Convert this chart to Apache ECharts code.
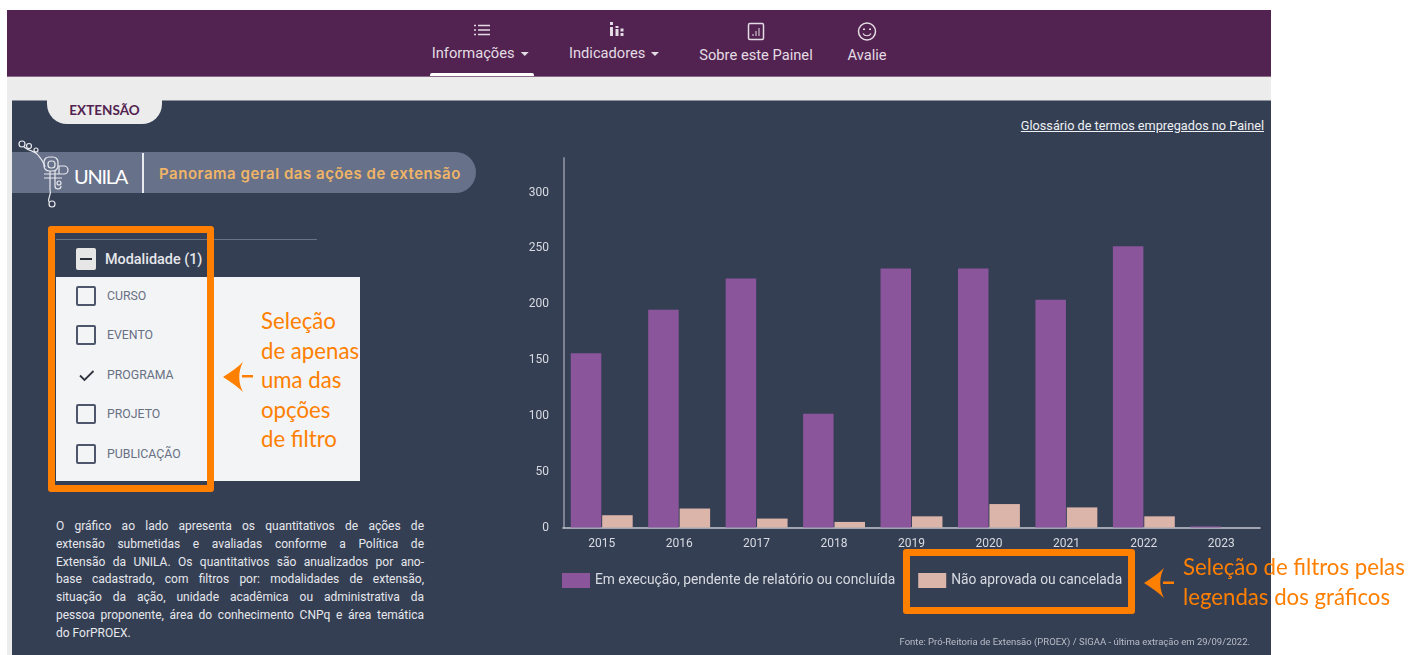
<!DOCTYPE html>
<html lang="pt-BR">
<head>
<meta charset="utf-8">
<title>Panorama geral das ações de extensão</title>
<script src="https://cdn.jsdelivr.net/npm/echarts@6/dist/echarts.min.js"></script>
<style>
html, body { margin: 0; padding: 0; width: 1411px; height: 655px; overflow: hidden; background: #fff; font-family: Roboto, sans-serif; }
.abs { position: absolute; white-space: nowrap; }
#topbar { left: 7px; top: 10px; width: 1264px; height: 67px; background: #522350; border-bottom: 1px solid #8a6a88; box-sizing: border-box; }
#strip { left: 7px; top: 77px; width: 1264px; height: 23px; background: #ececec; }
#side { left: 7px; top: 100px; width: 5px; height: 555px; background: #ececec; }
#panel { left: 12px; top: 100px; width: 1259px; height: 555px; background: #353f54; border-top: 1px solid #8d929c; box-sizing: border-box; }
#chart { left: 0; top: 0; width: 1411px; height: 655px; }
.nav { color: #e4dce4; font-size: 14.7px; transform: translateX(-50%); }
.nav i { display: inline-block; width: 0; height: 0; border: 4.5px solid transparent; border-top: 4.5px solid #e4dce4; border-bottom: 0; margin-left: 2px; vertical-align: 2px; }
#tab { left: 47px; top: 100px; width: 115px; height: 24px; background: #ececec; border-radius: 0 0 20px 20px; color: #522350; font: 700 13.5px/20px Lato, sans-serif; text-align: center; }
#glossario { right: 147px; top: 118px; color: #eef0f3; font-size: 12.7px; text-decoration: underline; }
#pill { left: 12px; top: 152px; width: 464px; height: 41px; background: #67718a; border-radius: 0 21px 21px 0; }
#unila { left: 74px; top: 164px; color: #fff; font: 400 20px/24px Lato, sans-serif; letter-spacing: -1.3px; }
#sep { left: 142px; top: 153px; width: 2px; height: 40px; background: #e8eaee; }
#titulo { left: 159px; top: 165px; color: #f0b566; font: 600 15px/18px Inter, sans-serif; letter-spacing: .52px; }
#filtroLinha { left: 56px; top: 239px; width: 261px; height: 1px; background: #6a7285; }
#filtroCaixa { left: 56px; top: 277px; width: 304px; height: 204px; background: #f3f4f6; }
.cb { width: 20px; height: 20px; box-sizing: border-box; border: 2px solid #4d566b; border-radius: 2px; left: 76px; }
#cbTopo { top: 248px; height: 22px; background: #e6e6e6; border: 0; }
#cbTopo b { position: absolute; left: 4px; top: 10px; width: 12px; height: 2px; background: #2a2f3a; }
#modalidade { left: 105px; top: 251px; color: #e6e7ea; font-size: 14.4px; font-weight: 500; line-height: 18px; }
.op { left: 107px; color: #687083; font-size: 12.3px; line-height: 16px; }
.laranja { border: 7px solid #ff7f00; border-radius: 3px; box-sizing: border-box; }
.nota { color: #ff7f00; font: 400 22.2px/29.5px Lato, sans-serif; }
#texto { left: 56px; top: 518px; width: 368px; color: #e6e8ec; font-size: 12px; line-height: 17.8px; white-space: normal; }
#texto div { text-align: justify; text-align-last: justify; }
#texto div:last-child { text-align-last: left; }
#fonte { right: 161px; top: 636px; color: #b9bdc7; font-size: 9.5px; line-height: 12px; }
svg.abs { overflow: visible; }
</style>
</head>
<body>
<div class="abs" id="topbar"></div>
<div class="abs" id="strip"></div>
<div class="abs" id="side"></div>
<div class="abs" id="panel"></div>

<!-- menu -->
<svg class="abs" style="left:0;top:0" width="1" height="1" fill="none" stroke="#e4dce4">
  <path d="M478 25.5h12M478 30h12M478 34.500h12" stroke-width="1.500"/>
  <path d="M474 25.500h2M474 30h2M474 34.500h2" stroke-width="1.500"/>
  <path d="M611.500 27v9M617 29v7M622 33v3M611.500 22v3M617 26v2M622 28.500v3" stroke-width="3"/>
  <rect x="748.500" y="23.500" width="15" height="16" rx="1.500" stroke-width="1.500"/>
  <path d="M753 36v-2M756 36v-5M759 36v-8" stroke-width="1"/>
  <circle cx="867" cy="31.500" r="8.500" stroke-width="1.500"/>
  <path d="M863 33.500c1.500 3 6.500 3 8 0" stroke-width="1.200"/>
  <path d="M864 28.500v1.500M870 28.500v1.500" stroke-width="2"/>
</svg>
<div class="abs nav" style="left:480px;top:44px">Informações <i></i></div>
<div class="abs nav" style="left:614px;top:44px">Indicadores <i></i></div>
<div class="abs nav" style="left:756px;top:46px">Sobre este Painel</div>
<div class="abs nav" style="left:867px;top:46px">Avalie</div>
<div class="abs" style="left:430px;top:73px;width:104px;height:3px;background:#fff;border-radius:2px 2px 0 0"></div>

<!-- cabecalho do painel -->
<div class="abs" id="tab">EXTENSÃO</div>
<div class="abs" id="glossario">Glossário de termos empregados no Painel</div>
<div class="abs" id="pill"></div>
<svg class="abs" style="left:0;top:0" width="1" height="1" fill="none" stroke="#e8eaee" stroke-width="1.200">
  <circle cx="22" cy="144" r="3"/><circle cx="29" cy="146" r="2.500"/><circle cx="36" cy="150" r="2"/>
  <path d="M24 147C30 152 34 150 38 155S44 162 45 167"/>
  <rect x="44" y="157" width="14" height="14" rx="5"/>
  <rect x="48" y="161" width="7" height="7" rx="3"/>
  <path d="M44 174H64a4 4 0 0 0 0-8h-5v8M44 178H62"/>
  <path d="M50 171V190M55 171V186a3 3 0 0 0 6 0"/>
  <path d="M50 190C52 195 47 198 49 202"/>
  <circle cx="52" cy="204" r="3"/><circle cx="59" cy="183" r="2"/>
</svg>
<div class="abs" id="unila">UNILA</div>
<div class="abs" id="sep"></div>
<div class="abs" id="titulo">Panorama geral das ações de extensão</div>

<!-- filtro -->
<div class="abs" id="filtroLinha"></div>
<div class="abs" id="filtroCaixa"></div>
<div class="abs cb" id="cbTopo"><b></b></div>
<div class="abs" id="modalidade">Modalidade (1)</div>
<div id="filtroItens"></div>
<svg class="abs" style="left:0;top:0" width="1" height="1" fill="none" stroke="#2f3440" stroke-width="1.800">
  <path d="M80 375.500l4.500 4.500 9-9"/>
</svg>
<div class="abs laranja" style="left:48px;top:226px;width:166px;height:266px"></div>

<!-- seta e nota do filtro -->
<svg class="abs" style="left:0;top:0" width="1" height="1" fill="#ff7f00">
  <path d="M223 377C231 372 238 367 243 362C238 371 238 383 243 392C238 387 231 382 223 377Z"/>
  <rect x="242" y="375" width="11" height="2.500"/>
  <path d="M1144 583C1152 578 1159 573 1164 568C1159 577 1159 589 1164 598C1159 593 1152 588 1144 583Z"/>
  <rect x="1163" y="581.500" width="11" height="2.500"/>
</svg>
<div class="abs nota" style="left:261px;top:306px">Seleção<br>de apenas<br>uma das<br>opções<br>de filtro</div>

<div class="abs" id="texto">
  <div>O gráfico ao lado apresenta os quantitativos de ações de</div>
  <div>extensão submetidas e avaliadas conforme a Política de</div>
  <div>Extensão da UNILA. Os quantitativos são anualizados por ano-</div>
  <div>base cadastrado, com filtros por: modalidades de extensão,</div>
  <div>situação da ação, unidade acadêmica ou administrativa da</div>
  <div>pessoa proponente, área do conhecimento CNPq e área temática</div>
  <div>do ForPROEX.</div>
</div>

<div class="abs" id="chart"></div>

<div class="abs laranja" style="left:903px;top:549px;width:232px;height:65px;pointer-events:none"></div>
<div class="abs nota" style="left:1183px;top:552px">Seleção de filtros pelas<br>legendas dos gráficos</div>
<div class="abs" id="fonte">Fonte: Pró-Reitoria de Extensão (PROEX) / SIGAA - última extração em 29/09/2022.</div>

<script>
const anos = ['2015', '2016', '2017', '2018', '2019', '2020', '2021', '2022', '2023']
const emExecucao = [156, 195, 223, 102, 232, 232, 204, 252, 1]
const naoAprovada = [11, 17, 8, 5, 10, 21, 18, 10, 0]
const modalidades = ['CURSO', 'EVENTO', 'PROGRAMA', 'PROJETO', 'PUBLICAÇÃO']
const modalidadeMarcada = 'PROGRAMA'
const linhasFiltro = [296, 335, 375, 414, 454]

// lista do filtro
const filtroItens = document.getElementById('filtroItens')
modalidades.forEach((nome, i) => {
  const y = linhasFiltro[i]
  if (nome !== modalidadeMarcada) {
    const cb = document.createElement('div')
    cb.className = 'abs cb'
    cb.style.top = (y - 10) + 'px'
    filtroItens.appendChild(cb)
  }
  const op = document.createElement('div')
  op.className = 'abs op'
  op.style.top = (y - 8) + 'px'
  op.textContent = nome
  filtroItens.appendChild(op)
})

const chart = echarts.init(document.getElementById('chart'), null, { renderer: 'canvas' })
const corTexto = '#d8dbe1'
chart.setOption({
  backgroundColor: 'transparent',
  animation: false,
  textStyle: { fontFamily: 'Roboto' },
  grid: { left: 563, right: 151, top: 158, bottom: 127.5 },
  legend: {
    left: 562,
    top: 573,
    padding: 0,
    itemWidth: 28,
    itemHeight: 15,
    itemGap: 23,
    icon: 'rect',
    textStyle: { color: corTexto, fontSize: 13.8, fontFamily: 'Roboto', padding: [3, 0, 0, 0] },
    data: ['Em execução, pendente de relatório ou concluída', 'Não aprovada ou cancelada']
  },
  xAxis: {
    type: 'category',
    data: anos,
    axisTick: { show: false },
    axisLine: { lineStyle: { color: '#c6c9d1', width: 1.5 } },
    axisLabel: { color: corTexto, fontSize: 12, margin: 10 }
  },
  yAxis: {
    type: 'value',
    min: 0,
    max: 331,
    interval: 50,
    offset: -1,
    splitLine: { show: false },
    axisTick: { show: false },
    axisLine: { show: true, lineStyle: { color: '#7c8294', width: 2 } },
    axisLabel: { color: corTexto, fontSize: 12, margin: 15, showMaxLabel: false, padding: [5, 0, 0, 0] }
  },
  series: [
    {
      name: 'Em execução, pendente de relatório ou concluída',
      type: 'bar',
      data: emExecucao,
      barWidth: 30.5,
      barGap: '3%',
      itemStyle: { color: '#8b559b' }
    },
    {
      name: 'Não aprovada ou cancelada',
      type: 'bar',
      data: naoAprovada,
      barWidth: 30.5,
      itemStyle: { color: '#dcb5aa' }
    }
  ]
})
</script>
</body>
</html>
